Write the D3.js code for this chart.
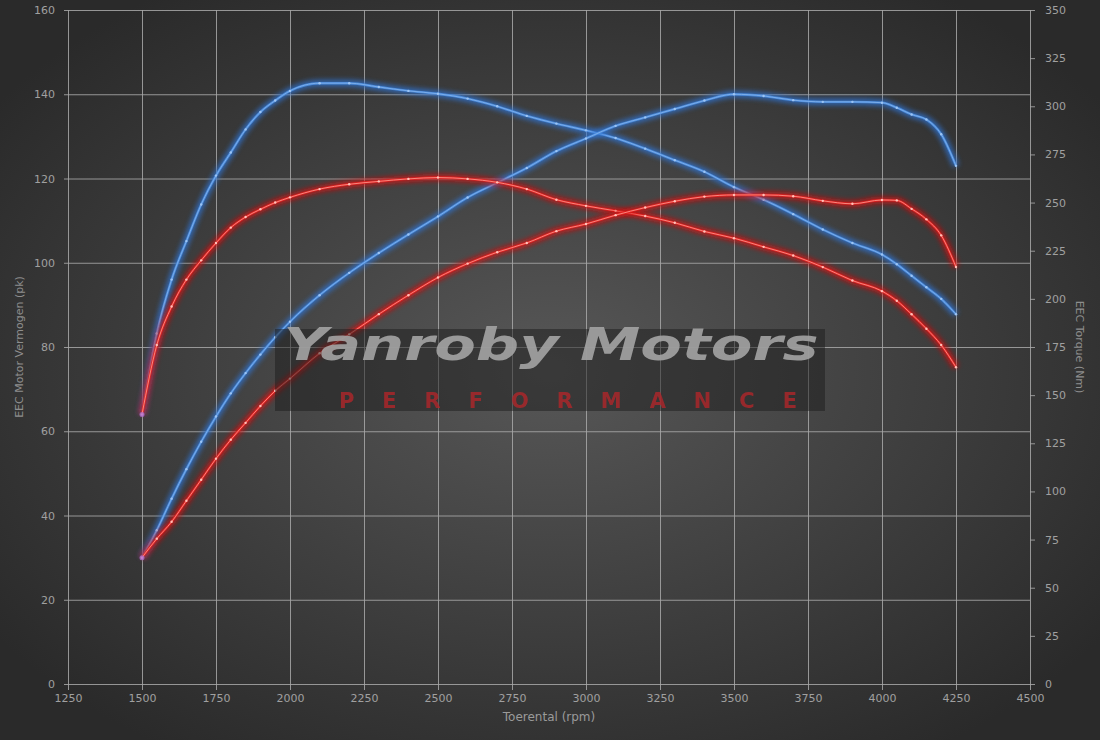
<!DOCTYPE html>
<meta charset="utf-8">
<script src="https://d3js.org/d3.v7.min.js"></script>
<style>
  body { margin: 0; background: #2e2e2e; }
  svg text { font-family: "DejaVu Sans", sans-serif; }
</style>
<div id="my_dataviz"></div>
<script>

// toerental (rpm) - shared x values
var rpm = [1500,1550,1600,1650,1700,1750,1800,1850,1900,1950,2000,2100,2200,2300,2400,2500,
           2600,2700,2800,2900,3000,3100,3200,3300,3400,3500,3600,3700,3800,3900,4000,4050,
           4100,4150,4200,4250];

// vermogen (pk), left axis
var powerTuned = [30,36.5,44,51,57.5,63.5,69,73.8,78.2,82.3,86,92.3,97.6,102.3,106.7,111,
                  115.5,119,122.5,126.5,129.5,132.5,134.5,136.5,138.5,140,139.6,138.6,138.2,138.2,138,136.8,
                  135.2,134,130.5,123];
var powerStock = [30,34.5,38.5,43.5,48.5,53.5,58,62,66,69.6,72.5,78.5,83,87.8,92.3,96.5,
                  99.8,102.5,104.7,107.5,109.2,111.3,113.1,114.6,115.7,116.1,116.1,115.8,114.7,114,114.9,114.8,
                  112.8,110.3,106.5,99];

// torque (Nm), right axis
var torqueTuned = [140,182,210,230,249,264,276,288,297,303,308,312,312,310,308,306.5,
                   304,300,295,291,287.5,283.5,278,272,266,258,251.5,244,236,229,223,218,
                   212,206,200,192];
var torqueStock = [140,176,196,210,220,229,237,242.5,246.5,250,252.7,257,259.5,261,262.3,263,
                   262.3,260.5,257,251.5,248.3,245.7,243,239.5,235,231.5,227,222.5,216.5,209.5,204,199,
                   192,184.5,176,164.5];

var xTicks = [1250,1500,1750,2000,2250,2500,2750,3000,3250,3500,3750,4000,4250,4500];
var leftTicks = [0,20,40,60,80,100,120,140,160];
var rightTicks = [0,25,50,75,100,125,150,175,200,225,250,275,300,325,350];

var W = 1100, H = 740;
var plotLeft = 68, plotRight = 1030, plotTop = 10, plotBottom = 684;

var svg = d3.select("#my_dataviz").append("svg")
    .attr("width", W).attr("height", H);

var defs = svg.append("defs");
var grad = defs.append("radialGradient").attr("id", "bg")
    .attr("cx", "50%").attr("cy", "50%").attr("r", "62%");
grad.append("stop").attr("offset", "0%").attr("stop-color", "#575757");
grad.append("stop").attr("offset", "100%").attr("stop-color", "#2a2a2a");

var glow = defs.append("filter").attr("id", "glow")
    .attr("x", "-10%").attr("y", "-10%").attr("width", "120%").attr("height", "120%");
glow.append("feGaussianBlur").attr("stdDeviation", 2.8);

var soft = defs.append("filter").attr("id", "soft");
soft.append("feGaussianBlur").attr("stdDeviation", 0.7);

svg.append("rect").attr("width", W).attr("height", H).attr("fill", "url(#bg)");

var x = d3.scaleLinear().domain([1250, 4500]).range([plotLeft, plotRight]);
var yL = d3.scaleLinear().domain([0, 160]).range([plotBottom, plotTop]);
var yR = d3.scaleLinear().domain([0, 350]).range([plotBottom, plotTop]);

// grid + axes
var fmt = d3.format("d");
var gx = svg.append("g")
    .attr("transform", "translate(0," + (plotBottom + 6) + ")")
    .call(d3.axisBottom(x).tickValues(xTicks).tickFormat(fmt)
      .tickSize(-(plotBottom + 6 - plotTop)).tickPadding(4));
var gl = svg.append("g")
    .attr("transform", "translate(" + (plotLeft - 4) + ",0)")
    .call(d3.axisLeft(yL).tickValues(leftTicks).tickFormat(fmt)
      .tickSize(-(plotRight - plotLeft + 4)).tickPadding(9));
var gr = svg.append("g")
    .attr("transform", "translate(" + plotRight + ",0)")
    .call(d3.axisRight(yR).tickValues(rightTicks).tickFormat(fmt).tickSize(5).tickPadding(10));

[gx, gl, gr].forEach(function(g) {
  g.select(".domain").remove();
  g.selectAll("line").attr("stroke", "#a8a8a8").attr("stroke-width", 1).attr("opacity", 0.85);
  g.selectAll("text").attr("fill", "#a0a0a0").style("font-size", "11px");
});

// curves
var series = [
  {vals: torqueTuned, y: yR, glow: "#2f74d6", core: "#4d8ee0", mid: "#86b6ef", dot: "#9cc4f4"},
  {vals: powerTuned,  y: yL, glow: "#2f74d6", core: "#4d8ee0", mid: "#86b6ef", dot: "#9cc4f4"},
  {vals: torqueStock, y: yR, glow: "#d80e0e", core: "#e52222", mid: "#ff9d92", dot: "#ffc0b8"},
  {vals: powerStock,  y: yL, glow: "#d80e0e", core: "#e52222", mid: "#ff9d92", dot: "#ffc0b8"}
];

series.forEach(function(s) {
  var line = d3.line()
      .x(function(d, i) { return x(rpm[i]); })
      .y(function(d) { return s.y(d); })
      .curve(d3.curveMonotoneX);
  var g = svg.append("g");
  g.append("path").attr("d", line(s.vals))
      .attr("fill", "none").attr("stroke", s.glow).attr("stroke-width", 7)
      .attr("opacity", 0.75).attr("filter", "url(#glow)");
  g.append("path").attr("d", line(s.vals))
      .attr("fill", "none").attr("stroke", s.core).attr("stroke-width", 2.4).attr("opacity", 0.9);
  g.append("path").attr("d", line(s.vals))
      .attr("fill", "none").attr("stroke", s.mid).attr("stroke-width", 0.8);
  g.selectAll("circle").data(s.vals).enter().append("circle")
      .attr("cx", function(d, i) { return x(rpm[i]); })
      .attr("cy", function(d) { return s.y(d); })
      .attr("r", 1.2).attr("fill", s.dot);
});

// start points where both runs overlap
svg.append("circle").attr("cx", x(rpm[0])).attr("cy", yR(torqueTuned[0])).attr("r", 2.5)
    .attr("fill", "#b070d0").attr("opacity", 0.8);
svg.append("circle").attr("cx", x(rpm[0])).attr("cy", yL(powerTuned[0])).attr("r", 2.5)
    .attr("fill", "#b070d0").attr("opacity", 0.8);

// watermark, laid over the chart
svg.append("rect")
    .attr("x", 275).attr("y", 329).attr("width", 550).attr("height", 82)
    .attr("fill", "#1c1c1c").attr("opacity", 0.5);
svg.append("text")
    .attr("x", 551).attr("y", 360)
    .attr("text-anchor", "middle")
    .attr("textLength", 535).attr("lengthAdjust", "spacingAndGlyphs")
    .attr("fill", "#a4a4a4").attr("opacity", 0.9).attr("filter", "url(#soft)")
    .style("font-family", "'DejaVu Sans', sans-serif")
    .style("font-weight", "bold").style("font-style", "italic").style("font-size", "44px")
    .text("Yanroby Motors");
svg.append("text")
    .attr("x", 568).attr("y", 408)
    .attr("text-anchor", "middle")
    .attr("textLength", 458).attr("lengthAdjust", "spacing")
    .attr("fill", "#b0282c").attr("opacity", 0.8).attr("filter", "url(#soft)")
    .style("font-family", "'DejaVu Sans', sans-serif")
    .style("font-weight", "bold").style("font-size", "21px")
    .text("PERFORMANCE");

// axis titles
svg.append("text")
    .attr("x", (plotLeft + plotRight) / 2).attr("y", 721)
    .attr("text-anchor", "middle").attr("fill", "#9a9a9a").style("font-size", "12px")
    .text("Toerental (rpm)");
svg.append("text")
    .attr("transform", "translate(23," + ((plotTop + plotBottom) / 2) + ") rotate(-90)")
    .attr("text-anchor", "middle").attr("fill", "#8e8e8e").style("font-size", "11px")
    .text("EEC Motor Vermogen (pk)");
svg.append("text")
    .attr("transform", "translate(1076," + ((plotTop + plotBottom) / 2) + ") rotate(90)")
    .attr("text-anchor", "middle").attr("fill", "#8e8e8e").style("font-size", "11px")
    .text("EEC Torque (Nm)");

</script>
